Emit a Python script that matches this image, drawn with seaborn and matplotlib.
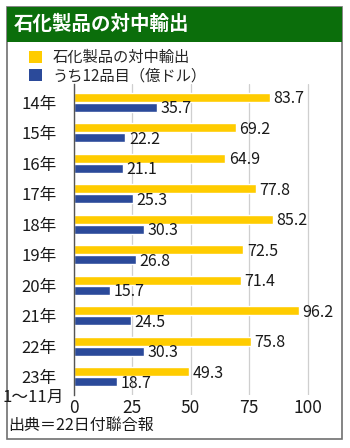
import matplotlib
matplotlib.use("Agg")
import matplotlib.pyplot as plt
import matplotlib.patches as mpatches
import pandas as pd
import seaborn as sns

years = ["14年", "15年", "16年", "17年", "18年", "19年", "20年", "21年", "22年", "23年"]
total_exports = [83.7, 69.2, 64.9, 77.8, 85.2, 72.5, 71.4, 96.2, 75.8, 49.3]
top12_items = [35.7, 22.2, 21.1, 25.3, 30.3, 26.8, 15.7, 24.5, 30.3, 18.7]
series_names = ["石化製品の対中輸出", "うち12品目（億ドル）"]
x_ticks = [0, 25, 50, 75, 100]

sns.set_theme(style="white")
plt.rcParams["font.family"] = ["Noto Sans CJK JP", "DejaVu Sans"]

df = pd.DataFrame({
    "year": years * 2,
    "value": total_exports + top12_items,
    "series": [series_names[0]] * len(years) + [series_names[1]] * len(years),
})

W, H = 350, 448
fig = plt.figure(figsize=(W / 100, H / 100), dpi=100)

def fx(px):
    return px / W

def fy(py):
    return 1 - py / H

# outer frame and title band
fig.patches.append(mpatches.Rectangle((fx(6.5), fy(438.5)), fx(335.5), 431.5 / H,
                                      transform=fig.transFigure, fill=False,
                                      edgecolor="#707070", linewidth=1.2, zorder=0))
fig.patches.append(mpatches.Rectangle((fx(6.5), fy(42)), fx(335.5), 35 / H,
                                      transform=fig.transFigure, facecolor="#0B6E0B",
                                      edgecolor="none", zorder=1))
fig.text(fx(14), fy(24.5), "石化製品の対中輸出", color="white", fontsize=14,
         fontweight="bold", ha="left", va="center")

ax_left, ax_right, ax_top, ax_bottom = 73.5, 331.1, 84, 395
ax = fig.add_axes([fx(ax_left), fy(ax_bottom), fx(ax_right - ax_left), (ax_bottom - ax_top) / H])

palette = {series_names[0]: "#FFCC00", series_names[1]: "#2B4A9A"}
sns.barplot(data=df, y="year", x="value", hue="series", orient="h", palette=palette,
            width=0.66, gap=0.1, ax=ax, saturation=1, legend=False)

for cont in ax.containers:
    labels = ax.bar_label(cont, fmt="%.1f", padding=2.5, fontsize=11.5, color="#1a1a1a")
    for t in labels:
        x_off, y_off = t.xyann
        t.xyann = (x_off, y_off - 1.0)

ax.set_xlim(0, 110)
ax.set_ylim(9.6, -0.6)
ax.set_xticks(x_ticks)
ax.set_xticklabels([str(t) for t in x_ticks], fontsize=12.5, color="#1a1a1a")
ax.tick_params(axis="x", length=0, pad=3)
ax.tick_params(axis="y", length=0, pad=12, labelsize=12, labelcolor="#1a1a1a")
ax.set_xlabel("")
ax.set_ylabel("")
ax.xaxis.grid(True, color="#CFCFCF", linewidth=0.9)
ax.set_axisbelow(True)
for side in ["top", "right", "bottom"]:
    ax.spines[side].set_visible(False)
ax.spines["left"].set_color("#555555")
ax.spines["left"].set_linewidth(1.0)

fig.text(fx(3), fy(397.5), "1～11月", fontsize=12, ha="left", va="center", color="#1a1a1a")

handles = [mpatches.Patch(facecolor=palette[n], edgecolor="none", label=n) for n in series_names]
fig.legend(handles=handles, loc="upper left", bbox_to_anchor=(fx(26), fy(46)),
           frameon=False, fontsize=11, handlelength=0.85, handleheight=0.85,
           handletextpad=0.7, labelspacing=0.1, borderaxespad=0, borderpad=0.2)

fig.text(fx(8), fy(425), "出典＝22日付聯合報", fontsize=11.5, ha="left", va="center", color="#1a1a1a")

fig.savefig("out.png", dpi=100)
